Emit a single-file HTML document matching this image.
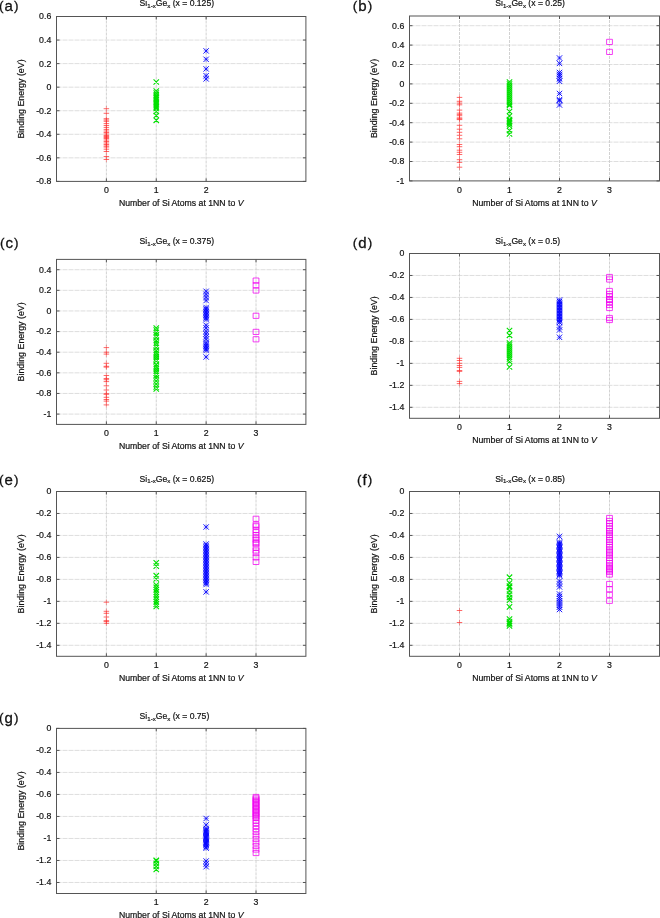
<!DOCTYPE html>
<html><head><meta charset="utf-8"><style>
html,body{margin:0;padding:0;background:#fff;width:660px;height:918px;overflow:hidden}
svg{display:block;filter:blur(0.35px)}
text{font-family:"Liberation Sans", sans-serif;fill:#111;stroke:#111;stroke-width:0.2px}
</style></head><body>
<svg width="660" height="918" viewBox="0 0 660 918">
<path d="M56.50 40.06H305.90M56.50 63.61H305.90M56.50 87.17H305.90M56.50 110.73H305.90M56.50 134.29H305.90M56.50 157.84H305.90" stroke="#d6d6d6" stroke-width="0.8" stroke-dasharray="5 1" fill="none"/>
<path d="M106.38 16.50V181.40M156.26 16.50V181.40M206.14 16.50V181.40" stroke="#cdcdcd" stroke-width="0.9" stroke-dasharray="3 1" fill="none"/>
<path d="M56.50 16.50h3M305.90 16.50h-3M56.50 40.06h3M305.90 40.06h-3M56.50 63.61h3M305.90 63.61h-3M56.50 87.17h3M305.90 87.17h-3M56.50 110.73h3M305.90 110.73h-3M56.50 134.29h3M305.90 134.29h-3M56.50 157.84h3M305.90 157.84h-3M56.50 181.40h3M305.90 181.40h-3M106.38 181.40v-3M106.38 16.50v3M156.26 181.40v-3M156.26 16.50v3M206.14 181.40v-3M206.14 16.50v3" stroke="#555555" stroke-width="1" fill="none"/>
<path d="M103.63 108.70h5.5M103.63 113.30h5.5M103.63 118.70h5.5M103.63 120.00h5.5M103.63 121.30h5.5M103.63 123.60h5.5M103.63 125.50h5.5M103.63 127.40h5.5M103.63 129.40h5.5M103.63 131.00h5.5M103.63 132.50h5.5M103.63 134.00h5.5M103.63 135.50h5.5M103.63 136.50h5.5M103.63 137.50h5.5M103.63 138.50h5.5M103.63 140.00h5.5M103.63 141.50h5.5M103.63 143.00h5.5M103.63 144.50h5.5M103.63 146.00h5.5M103.63 147.00h5.5M103.63 149.20h5.5M103.63 151.50h5.5M103.63 156.50h5.5M103.63 159.50h5.5" stroke="#ff2828" stroke-width="0.7" fill="none"/>
<path d="M106.38 106.00v5.4M106.38 110.60v5.4M106.38 116.00v5.4M106.38 117.30v5.4M106.38 118.60v5.4M106.38 120.90v5.4M106.38 122.80v5.4M106.38 124.70v5.4M106.38 126.70v5.4M106.38 128.30v5.4M106.38 129.80v5.4M106.38 131.30v5.4M106.38 132.80v5.4M106.38 133.80v5.4M106.38 134.80v5.4M106.38 135.80v5.4M106.38 137.30v5.4M106.38 138.80v5.4M106.38 140.30v5.4M106.38 141.80v5.4M106.38 143.30v5.4M106.38 144.30v5.4M106.38 146.50v5.4M106.38 148.80v5.4M106.38 153.80v5.4M106.38 156.80v5.4" stroke="#ff2828" stroke-width="0.7" stroke-opacity="0.6" fill="none"/>
<path d="M153.56 79.30l5.4 5.4M153.56 84.70l5.4 -5.4M153.56 88.30l5.4 5.4M153.56 93.70l5.4 -5.4M153.56 90.30l5.4 5.4M153.56 95.70l5.4 -5.4M153.56 92.30l5.4 5.4M153.56 97.70l5.4 -5.4M153.56 93.80l5.4 5.4M153.56 99.20l5.4 -5.4M153.56 95.30l5.4 5.4M153.56 100.70l5.4 -5.4M153.56 96.30l5.4 5.4M153.56 101.70l5.4 -5.4M153.56 97.30l5.4 5.4M153.56 102.70l5.4 -5.4M153.56 98.30l5.4 5.4M153.56 103.70l5.4 -5.4M153.56 99.30l5.4 5.4M153.56 104.70l5.4 -5.4M153.56 100.30l5.4 5.4M153.56 105.70l5.4 -5.4M153.56 101.30l5.4 5.4M153.56 106.70l5.4 -5.4M153.56 102.80l5.4 5.4M153.56 108.20l5.4 -5.4M153.56 104.30l5.4 5.4M153.56 109.70l5.4 -5.4M153.56 105.80l5.4 5.4M153.56 111.20l5.4 -5.4M153.56 108.80l5.4 5.4M153.56 114.20l5.4 -5.4M153.56 112.80l5.4 5.4M153.56 118.20l5.4 -5.4M153.56 117.60l5.4 5.4M153.56 123.00l5.4 -5.4" stroke="#00e000" stroke-width="1.1" fill="none"/>
<path d="M203.44 48.20l5.4 5.4M203.44 53.60l5.4 -5.4M203.44 56.60l5.4 5.4M203.44 62.00l5.4 -5.4M203.44 66.20l5.4 5.4M203.44 71.60l5.4 -5.4M203.44 73.00l5.4 5.4M203.44 78.40l5.4 -5.4M203.44 76.20l5.4 5.4M203.44 81.60l5.4 -5.4" stroke="#0000ff" stroke-width="0.9" fill="none"/>
<path d="M203.44 50.90h5.4M206.14 48.20v5.4M203.44 59.30h5.4M206.14 56.60v5.4M203.44 68.90h5.4M206.14 66.20v5.4M203.44 75.70h5.4M206.14 73.00v5.4M203.44 78.90h5.4M206.14 76.20v5.4" stroke="#0000ff" stroke-width="0.8" stroke-opacity="0.45" fill="none"/>
<rect x="56.50" y="16.50" width="249.40" height="164.90" stroke="#555555" stroke-width="1" fill="none"/>
<text transform="translate(51.30 19.40) scale(0.945 1)" font-size="9.3" text-anchor="end">0.6</text>
<text transform="translate(51.30 42.96) scale(0.945 1)" font-size="9.3" text-anchor="end">0.4</text>
<text transform="translate(51.30 66.51) scale(0.945 1)" font-size="9.3" text-anchor="end">0.2</text>
<text transform="translate(51.30 90.07) scale(0.945 1)" font-size="9.3" text-anchor="end">0</text>
<text transform="translate(51.30 113.63) scale(0.945 1)" font-size="9.3" text-anchor="end">-0.2</text>
<text transform="translate(51.30 137.19) scale(0.945 1)" font-size="9.3" text-anchor="end">-0.4</text>
<text transform="translate(51.30 160.74) scale(0.945 1)" font-size="9.3" text-anchor="end">-0.6</text>
<text transform="translate(51.30 184.30) scale(0.945 1)" font-size="9.3" text-anchor="end">-0.8</text>
<text transform="translate(106.38 193.00) scale(0.945 1)" font-size="9.3" text-anchor="middle">0</text>
<text transform="translate(156.26 193.00) scale(0.945 1)" font-size="9.3" text-anchor="middle">1</text>
<text transform="translate(206.14 193.00) scale(0.945 1)" font-size="9.3" text-anchor="middle">2</text>
<text x="181.20" y="206.30" font-size="8.7" text-anchor="middle">Number of Si Atoms at 1NN to <tspan font-style="italic">V</tspan></text>
<text transform="translate(23.90 98.95) rotate(-90)" x="0" y="0" font-size="8.85" text-anchor="middle">Binding Energy (eV)</text>
<text x="139.6" y="6.1000000000000005" font-size="8.62">Si<tspan font-size="6.1" dy="1.9">1-x</tspan><tspan dy="-1.9">Ge</tspan><tspan font-size="6.1" dy="1.9">x</tspan><tspan dy="-1.9"> (x = 0.125)</tspan></text>
<text x="18.4" y="10.65" font-size="15" text-anchor="end" style="stroke-width:0.3px"><tspan font-size="13.5" dy="-1">(</tspan><tspan dx="1" dy="1">a</tspan><tspan font-size="13.5" dx="1" dy="-1">)</tspan></text>
<path d="M409.50 25.70H659.50M409.50 45.10H659.50M409.50 64.50H659.50M409.50 83.90H659.50M409.50 103.30H659.50M409.50 122.70H659.50M409.50 142.10H659.50M409.50 161.50H659.50" stroke="#d6d6d6" stroke-width="0.8" stroke-dasharray="5 1" fill="none"/>
<path d="M459.50 16.00V180.90M509.50 16.00V180.90M559.50 16.00V180.90M609.50 16.00V180.90" stroke="#cdcdcd" stroke-width="0.9" stroke-dasharray="3 1" fill="none"/>
<path d="M409.50 25.70h3M659.50 25.70h-3M409.50 45.10h3M659.50 45.10h-3M409.50 64.50h3M659.50 64.50h-3M409.50 83.90h3M659.50 83.90h-3M409.50 103.30h3M659.50 103.30h-3M409.50 122.70h3M659.50 122.70h-3M409.50 142.10h3M659.50 142.10h-3M409.50 161.50h3M659.50 161.50h-3M409.50 180.90h3M659.50 180.90h-3M459.50 180.90v-3M459.50 16.00v3M509.50 180.90v-3M509.50 16.00v3M559.50 180.90v-3M559.50 16.00v3M609.50 180.90v-3M609.50 16.00v3" stroke="#555555" stroke-width="1" fill="none"/>
<path d="M456.75 97.40h5.5M456.75 101.30h5.5M456.75 103.10h5.5M456.75 104.80h5.5M456.75 110.10h5.5M456.75 113.10h5.5M456.75 114.40h5.5M456.75 115.70h5.5M456.75 117.90h5.5M456.75 118.80h5.5M456.75 119.60h5.5M456.75 125.30h5.5M456.75 129.20h5.5M456.75 132.30h5.5M456.75 135.30h5.5M456.75 138.80h5.5M456.75 144.50h5.5M456.75 146.70h5.5M456.75 150.20h5.5M456.75 152.30h5.5M456.75 154.50h5.5M456.75 159.70h5.5M456.75 162.40h5.5M456.75 167.20h5.5" stroke="#ff2828" stroke-width="0.7" fill="none"/>
<path d="M459.50 94.70v5.4M459.50 98.60v5.4M459.50 100.40v5.4M459.50 102.10v5.4M459.50 107.40v5.4M459.50 110.40v5.4M459.50 111.70v5.4M459.50 113.00v5.4M459.50 115.20v5.4M459.50 116.10v5.4M459.50 116.90v5.4M459.50 122.60v5.4M459.50 126.50v5.4M459.50 129.60v5.4M459.50 132.60v5.4M459.50 136.10v5.4M459.50 141.80v5.4M459.50 144.00v5.4M459.50 147.50v5.4M459.50 149.60v5.4M459.50 151.80v5.4M459.50 157.00v5.4M459.50 159.70v5.4M459.50 164.50v5.4" stroke="#ff2828" stroke-width="0.7" stroke-opacity="0.6" fill="none"/>
<path d="M506.80 79.30l5.4 5.4M506.80 84.70l5.4 -5.4M506.80 81.30l5.4 5.4M506.80 86.70l5.4 -5.4M506.80 83.30l5.4 5.4M506.80 88.70l5.4 -5.4M506.80 85.30l5.4 5.4M506.80 90.70l5.4 -5.4M506.80 87.30l5.4 5.4M506.80 92.70l5.4 -5.4M506.80 89.30l5.4 5.4M506.80 94.70l5.4 -5.4M506.80 91.30l5.4 5.4M506.80 96.70l5.4 -5.4M506.80 93.30l5.4 5.4M506.80 98.70l5.4 -5.4M506.80 95.30l5.4 5.4M506.80 100.70l5.4 -5.4M506.80 97.30l5.4 5.4M506.80 102.70l5.4 -5.4M506.80 99.30l5.4 5.4M506.80 104.70l5.4 -5.4M506.80 101.30l5.4 5.4M506.80 106.70l5.4 -5.4M506.80 102.80l5.4 5.4M506.80 108.20l5.4 -5.4M506.80 108.80l5.4 5.4M506.80 114.20l5.4 -5.4M506.80 113.30l5.4 5.4M506.80 118.70l5.4 -5.4M506.80 116.80l5.4 5.4M506.80 122.20l5.4 -5.4M506.80 118.30l5.4 5.4M506.80 123.70l5.4 -5.4M506.80 119.80l5.4 5.4M506.80 125.20l5.4 -5.4M506.80 121.30l5.4 5.4M506.80 126.70l5.4 -5.4M506.80 123.30l5.4 5.4M506.80 128.70l5.4 -5.4M506.80 127.80l5.4 5.4M506.80 133.20l5.4 -5.4M506.80 131.30l5.4 5.4M506.80 136.70l5.4 -5.4" stroke="#00e000" stroke-width="1.1" fill="none"/>
<path d="M556.80 55.30l5.4 5.4M556.80 60.70l5.4 -5.4M556.80 60.70l5.4 5.4M556.80 66.10l5.4 -5.4M556.80 69.80l5.4 5.4M556.80 75.20l5.4 -5.4M556.80 71.70l5.4 5.4M556.80 77.10l5.4 -5.4M556.80 73.30l5.4 5.4M556.80 78.70l5.4 -5.4M556.80 75.90l5.4 5.4M556.80 81.30l5.4 -5.4M556.80 78.60l5.4 5.4M556.80 84.00l5.4 -5.4M556.80 90.80l5.4 5.4M556.80 96.20l5.4 -5.4M556.80 97.00l5.4 5.4M556.80 102.40l5.4 -5.4M556.80 98.00l5.4 5.4M556.80 103.40l5.4 -5.4M556.80 102.30l5.4 5.4M556.80 107.70l5.4 -5.4" stroke="#0000ff" stroke-width="0.9" fill="none"/>
<path d="M556.80 58.00h5.4M559.50 55.30v5.4M556.80 63.40h5.4M559.50 60.70v5.4M556.80 72.50h5.4M559.50 69.80v5.4M556.80 74.40h5.4M559.50 71.70v5.4M556.80 76.00h5.4M559.50 73.30v5.4M556.80 78.60h5.4M559.50 75.90v5.4M556.80 81.30h5.4M559.50 78.60v5.4M556.80 93.50h5.4M559.50 90.80v5.4M556.80 99.70h5.4M559.50 97.00v5.4M556.80 100.70h5.4M559.50 98.00v5.4M556.80 105.00h5.4M559.50 102.30v5.4" stroke="#0000ff" stroke-width="0.8" stroke-opacity="0.45" fill="none"/>
<path d="M606.60 39.30h5.8v5.2h-5.8zM606.60 49.30h5.8v5.2h-5.8z" stroke="#f000f0" stroke-width="0.75" fill="none"/>
<rect x="409.50" y="16.00" width="250.00" height="164.90" stroke="#555555" stroke-width="1" fill="none"/>
<text transform="translate(404.30 28.60) scale(0.945 1)" font-size="9.3" text-anchor="end">0.6</text>
<text transform="translate(404.30 48.00) scale(0.945 1)" font-size="9.3" text-anchor="end">0.4</text>
<text transform="translate(404.30 67.40) scale(0.945 1)" font-size="9.3" text-anchor="end">0.2</text>
<text transform="translate(404.30 86.80) scale(0.945 1)" font-size="9.3" text-anchor="end">0</text>
<text transform="translate(404.30 106.20) scale(0.945 1)" font-size="9.3" text-anchor="end">-0.2</text>
<text transform="translate(404.30 125.60) scale(0.945 1)" font-size="9.3" text-anchor="end">-0.4</text>
<text transform="translate(404.30 145.00) scale(0.945 1)" font-size="9.3" text-anchor="end">-0.6</text>
<text transform="translate(404.30 164.40) scale(0.945 1)" font-size="9.3" text-anchor="end">-0.8</text>
<text transform="translate(404.30 183.80) scale(0.945 1)" font-size="9.3" text-anchor="end">-1</text>
<text transform="translate(459.50 192.50) scale(0.945 1)" font-size="9.3" text-anchor="middle">0</text>
<text transform="translate(509.50 192.50) scale(0.945 1)" font-size="9.3" text-anchor="middle">1</text>
<text transform="translate(559.50 192.50) scale(0.945 1)" font-size="9.3" text-anchor="middle">2</text>
<text transform="translate(609.50 192.50) scale(0.945 1)" font-size="9.3" text-anchor="middle">3</text>
<text x="534.50" y="205.80" font-size="8.7" text-anchor="middle">Number of Si Atoms at 1NN to <tspan font-style="italic">V</tspan></text>
<text transform="translate(376.90 98.45) rotate(-90)" x="0" y="0" font-size="8.85" text-anchor="middle">Binding Energy (eV)</text>
<text x="495.3" y="6.3" font-size="8.62">Si<tspan font-size="6.1" dy="1.9">1-x</tspan><tspan dy="-1.9">Ge</tspan><tspan font-size="6.1" dy="1.9">x</tspan><tspan dy="-1.9"> (x = 0.25)</tspan></text>
<text x="372.2" y="10.65" font-size="15" text-anchor="end" style="stroke-width:0.3px"><tspan font-size="13.5" dy="-1">(</tspan><tspan dx="1" dy="1">b</tspan><tspan font-size="13.5" dx="1" dy="-1">)</tspan></text>
<path d="M56.50 269.71H305.90M56.50 290.34H305.90M56.50 310.96H305.90M56.50 331.59H305.90M56.50 352.21H305.90M56.50 372.84H305.90M56.50 393.46H305.90M56.50 414.09H305.90" stroke="#d6d6d6" stroke-width="0.8" stroke-dasharray="5 1" fill="none"/>
<path d="M106.38 259.40V424.40M156.26 259.40V424.40M206.14 259.40V424.40M256.02 259.40V424.40" stroke="#cdcdcd" stroke-width="0.9" stroke-dasharray="3 1" fill="none"/>
<path d="M56.50 269.71h3M305.90 269.71h-3M56.50 290.34h3M305.90 290.34h-3M56.50 310.96h3M305.90 310.96h-3M56.50 331.59h3M305.90 331.59h-3M56.50 352.21h3M305.90 352.21h-3M56.50 372.84h3M305.90 372.84h-3M56.50 393.46h3M305.90 393.46h-3M56.50 414.09h3M305.90 414.09h-3M106.38 424.40v-3M106.38 259.40v3M156.26 424.40v-3M156.26 259.40v3M206.14 424.40v-3M206.14 259.40v3M256.02 424.40v-3M256.02 259.40v3" stroke="#555555" stroke-width="1" fill="none"/>
<path d="M103.63 347.60h5.5M103.63 352.20h5.5M103.63 354.10h5.5M103.63 363.30h5.5M103.63 366.30h5.5M103.63 367.10h5.5M103.63 375.50h5.5M103.63 378.50h5.5M103.63 379.70h5.5M103.63 381.60h5.5M103.63 385.80h5.5M103.63 390.00h5.5M103.63 393.80h5.5M103.63 394.20h5.5M103.63 397.30h5.5M103.63 399.50h5.5M103.63 401.10h5.5M103.63 404.90h5.5" stroke="#ff2828" stroke-width="0.7" fill="none"/>
<path d="M106.38 344.90v5.4M106.38 349.50v5.4M106.38 351.40v5.4M106.38 360.60v5.4M106.38 363.60v5.4M106.38 364.40v5.4M106.38 372.80v5.4M106.38 375.80v5.4M106.38 377.00v5.4M106.38 378.90v5.4M106.38 383.10v5.4M106.38 387.30v5.4M106.38 391.10v5.4M106.38 391.50v5.4M106.38 394.60v5.4M106.38 396.80v5.4M106.38 398.40v5.4M106.38 402.20v5.4" stroke="#ff2828" stroke-width="0.7" stroke-opacity="0.6" fill="none"/>
<path d="M153.56 325.30l5.4 5.4M153.56 330.70l5.4 -5.4M153.56 327.30l5.4 5.4M153.56 332.70l5.4 -5.4M153.56 329.80l5.4 5.4M153.56 335.20l5.4 -5.4M153.56 332.30l5.4 5.4M153.56 337.70l5.4 -5.4M153.56 334.80l5.4 5.4M153.56 340.20l5.4 -5.4M153.56 337.80l5.4 5.4M153.56 343.20l5.4 -5.4M153.56 340.30l5.4 5.4M153.56 345.70l5.4 -5.4M153.56 342.30l5.4 5.4M153.56 347.70l5.4 -5.4M153.56 344.80l5.4 5.4M153.56 350.20l5.4 -5.4M153.56 347.80l5.4 5.4M153.56 353.20l5.4 -5.4M153.56 350.30l5.4 5.4M153.56 355.70l5.4 -5.4M153.56 352.30l5.4 5.4M153.56 357.70l5.4 -5.4M153.56 354.30l5.4 5.4M153.56 359.70l5.4 -5.4M153.56 356.30l5.4 5.4M153.56 361.70l5.4 -5.4M153.56 358.30l5.4 5.4M153.56 363.70l5.4 -5.4M153.56 361.80l5.4 5.4M153.56 367.20l5.4 -5.4M153.56 364.30l5.4 5.4M153.56 369.70l5.4 -5.4M153.56 366.30l5.4 5.4M153.56 371.70l5.4 -5.4M153.56 368.30l5.4 5.4M153.56 373.70l5.4 -5.4M153.56 370.30l5.4 5.4M153.56 375.70l5.4 -5.4M153.56 372.80l5.4 5.4M153.56 378.20l5.4 -5.4M153.56 375.30l5.4 5.4M153.56 380.70l5.4 -5.4M153.56 378.30l5.4 5.4M153.56 383.70l5.4 -5.4M153.56 381.30l5.4 5.4M153.56 386.70l5.4 -5.4M153.56 384.30l5.4 5.4M153.56 389.70l5.4 -5.4M153.56 386.30l5.4 5.4M153.56 391.70l5.4 -5.4" stroke="#00e000" stroke-width="1.1" fill="none"/>
<path d="M203.44 288.60l5.4 5.4M203.44 294.00l5.4 -5.4M203.44 291.70l5.4 5.4M203.44 297.10l5.4 -5.4M203.44 294.70l5.4 5.4M203.44 300.10l5.4 -5.4M203.44 297.80l5.4 5.4M203.44 303.20l5.4 -5.4M203.44 304.80l5.4 5.4M203.44 310.20l5.4 -5.4M203.44 306.30l5.4 5.4M203.44 311.70l5.4 -5.4M203.44 307.80l5.4 5.4M203.44 313.20l5.4 -5.4M203.44 309.30l5.4 5.4M203.44 314.70l5.4 -5.4M203.44 310.80l5.4 5.4M203.44 316.20l5.4 -5.4M203.44 312.30l5.4 5.4M203.44 317.70l5.4 -5.4M203.44 313.80l5.4 5.4M203.44 319.20l5.4 -5.4M203.44 315.30l5.4 5.4M203.44 320.70l5.4 -5.4M203.44 316.80l5.4 5.4M203.44 322.20l5.4 -5.4M203.44 322.60l5.4 5.4M203.44 328.00l5.4 -5.4M203.44 325.30l5.4 5.4M203.44 330.70l5.4 -5.4M203.44 328.70l5.4 5.4M203.44 334.10l5.4 -5.4M203.44 331.30l5.4 5.4M203.44 336.70l5.4 -5.4M203.44 334.00l5.4 5.4M203.44 339.40l5.4 -5.4M203.44 336.60l5.4 5.4M203.44 342.00l5.4 -5.4M203.44 339.90l5.4 5.4M203.44 345.30l5.4 -5.4M203.44 341.80l5.4 5.4M203.44 347.20l5.4 -5.4M203.44 343.30l5.4 5.4M203.44 348.70l5.4 -5.4M203.44 344.80l5.4 5.4M203.44 350.20l5.4 -5.4M203.44 346.30l5.4 5.4M203.44 351.70l5.4 -5.4M203.44 347.80l5.4 5.4M203.44 353.20l5.4 -5.4M203.44 354.30l5.4 5.4M203.44 359.70l5.4 -5.4" stroke="#0000ff" stroke-width="0.9" fill="none"/>
<path d="M203.44 291.30h5.4M206.14 288.60v5.4M203.44 294.40h5.4M206.14 291.70v5.4M203.44 297.40h5.4M206.14 294.70v5.4M203.44 300.50h5.4M206.14 297.80v5.4M203.44 307.50h5.4M206.14 304.80v5.4M203.44 309.00h5.4M206.14 306.30v5.4M203.44 310.50h5.4M206.14 307.80v5.4M203.44 312.00h5.4M206.14 309.30v5.4M203.44 313.50h5.4M206.14 310.80v5.4M203.44 315.00h5.4M206.14 312.30v5.4M203.44 316.50h5.4M206.14 313.80v5.4M203.44 318.00h5.4M206.14 315.30v5.4M203.44 319.50h5.4M206.14 316.80v5.4M203.44 325.30h5.4M206.14 322.60v5.4M203.44 328.00h5.4M206.14 325.30v5.4M203.44 331.40h5.4M206.14 328.70v5.4M203.44 334.00h5.4M206.14 331.30v5.4M203.44 336.70h5.4M206.14 334.00v5.4M203.44 339.30h5.4M206.14 336.60v5.4M203.44 342.60h5.4M206.14 339.90v5.4M203.44 344.50h5.4M206.14 341.80v5.4M203.44 346.00h5.4M206.14 343.30v5.4M203.44 347.50h5.4M206.14 344.80v5.4M203.44 349.00h5.4M206.14 346.30v5.4M203.44 350.50h5.4M206.14 347.80v5.4M203.44 357.00h5.4M206.14 354.30v5.4" stroke="#0000ff" stroke-width="0.8" stroke-opacity="0.45" fill="none"/>
<path d="M253.12 278.00h5.8v5.2h-5.8zM253.12 282.70h5.8v5.2h-5.8zM253.12 287.90h5.8v5.2h-5.8zM253.12 313.20h5.8v5.2h-5.8zM253.12 329.30h5.8v5.2h-5.8zM253.12 336.70h5.8v5.2h-5.8z" stroke="#f000f0" stroke-width="0.75" fill="none"/>
<rect x="56.50" y="259.40" width="249.40" height="165.00" stroke="#555555" stroke-width="1" fill="none"/>
<text transform="translate(51.30 272.61) scale(0.945 1)" font-size="9.3" text-anchor="end">0.4</text>
<text transform="translate(51.30 293.24) scale(0.945 1)" font-size="9.3" text-anchor="end">0.2</text>
<text transform="translate(51.30 313.86) scale(0.945 1)" font-size="9.3" text-anchor="end">0</text>
<text transform="translate(51.30 334.49) scale(0.945 1)" font-size="9.3" text-anchor="end">-0.2</text>
<text transform="translate(51.30 355.11) scale(0.945 1)" font-size="9.3" text-anchor="end">-0.4</text>
<text transform="translate(51.30 375.74) scale(0.945 1)" font-size="9.3" text-anchor="end">-0.6</text>
<text transform="translate(51.30 396.36) scale(0.945 1)" font-size="9.3" text-anchor="end">-0.8</text>
<text transform="translate(51.30 416.99) scale(0.945 1)" font-size="9.3" text-anchor="end">-1</text>
<text transform="translate(106.38 436.00) scale(0.945 1)" font-size="9.3" text-anchor="middle">0</text>
<text transform="translate(156.26 436.00) scale(0.945 1)" font-size="9.3" text-anchor="middle">1</text>
<text transform="translate(206.14 436.00) scale(0.945 1)" font-size="9.3" text-anchor="middle">2</text>
<text transform="translate(256.02 436.00) scale(0.945 1)" font-size="9.3" text-anchor="middle">3</text>
<text x="181.20" y="449.30" font-size="8.7" text-anchor="middle">Number of Si Atoms at 1NN to <tspan font-style="italic">V</tspan></text>
<text transform="translate(23.90 341.90) rotate(-90)" x="0" y="0" font-size="8.85" text-anchor="middle">Binding Energy (eV)</text>
<text x="139.6" y="244.0" font-size="8.62">Si<tspan font-size="6.1" dy="1.9">1-x</tspan><tspan dy="-1.9">Ge</tspan><tspan font-size="6.1" dy="1.9">x</tspan><tspan dy="-1.9"> (x = 0.375)</tspan></text>
<text x="18.4" y="247.75" font-size="15" text-anchor="end" style="stroke-width:0.3px"><tspan font-size="13.5" dy="-1">(</tspan><tspan dx="1" dy="1">c</tspan><tspan font-size="13.5" dx="1" dy="-1">)</tspan></text>
<path d="M409.50 275.47H659.50M409.50 297.45H659.50M409.50 319.42H659.50M409.50 341.39H659.50M409.50 363.37H659.50M409.50 385.34H659.50M409.50 407.31H659.50" stroke="#d6d6d6" stroke-width="0.8" stroke-dasharray="5 1" fill="none"/>
<path d="M459.50 253.50V418.30M509.50 253.50V418.30M559.50 253.50V418.30M609.50 253.50V418.30" stroke="#cdcdcd" stroke-width="0.9" stroke-dasharray="3 1" fill="none"/>
<path d="M409.50 253.50h3M659.50 253.50h-3M409.50 275.47h3M659.50 275.47h-3M409.50 297.45h3M659.50 297.45h-3M409.50 319.42h3M659.50 319.42h-3M409.50 341.39h3M659.50 341.39h-3M409.50 363.37h3M659.50 363.37h-3M409.50 385.34h3M659.50 385.34h-3M409.50 407.31h3M659.50 407.31h-3M459.50 418.30v-3M459.50 253.50v3M509.50 418.30v-3M509.50 253.50v3M559.50 418.30v-3M559.50 253.50v3M609.50 418.30v-3M609.50 253.50v3" stroke="#555555" stroke-width="1" fill="none"/>
<path d="M456.75 358.30h5.5M456.75 360.50h5.5M456.75 363.30h5.5M456.75 365.50h5.5M456.75 367.40h5.5M456.75 370.50h5.5M456.75 371.40h5.5M456.75 381.40h5.5M456.75 383.60h5.5" stroke="#ff2828" stroke-width="0.7" fill="none"/>
<path d="M459.50 355.60v5.4M459.50 357.80v5.4M459.50 360.60v5.4M459.50 362.80v5.4M459.50 364.70v5.4M459.50 367.80v5.4M459.50 368.70v5.4M459.50 378.70v5.4M459.50 380.90v5.4" stroke="#ff2828" stroke-width="0.7" stroke-opacity="0.6" fill="none"/>
<path d="M506.80 327.80l5.4 5.4M506.80 333.20l5.4 -5.4M506.80 332.60l5.4 5.4M506.80 338.00l5.4 -5.4M506.80 340.30l5.4 5.4M506.80 345.70l5.4 -5.4M506.80 342.30l5.4 5.4M506.80 347.70l5.4 -5.4M506.80 344.30l5.4 5.4M506.80 349.70l5.4 -5.4M506.80 346.30l5.4 5.4M506.80 351.70l5.4 -5.4M506.80 348.30l5.4 5.4M506.80 353.70l5.4 -5.4M506.80 350.30l5.4 5.4M506.80 355.70l5.4 -5.4M506.80 352.30l5.4 5.4M506.80 357.70l5.4 -5.4M506.80 354.30l5.4 5.4M506.80 359.70l5.4 -5.4M506.80 356.30l5.4 5.4M506.80 361.70l5.4 -5.4M506.80 358.80l5.4 5.4M506.80 364.20l5.4 -5.4M506.80 364.30l5.4 5.4M506.80 369.70l5.4 -5.4" stroke="#00e000" stroke-width="1.1" fill="none"/>
<path d="M556.80 297.30l5.4 5.4M556.80 302.70l5.4 -5.4M556.80 298.80l5.4 5.4M556.80 304.20l5.4 -5.4M556.80 300.30l5.4 5.4M556.80 305.70l5.4 -5.4M556.80 301.80l5.4 5.4M556.80 307.20l5.4 -5.4M556.80 303.30l5.4 5.4M556.80 308.70l5.4 -5.4M556.80 304.80l5.4 5.4M556.80 310.20l5.4 -5.4M556.80 306.30l5.4 5.4M556.80 311.70l5.4 -5.4M556.80 307.80l5.4 5.4M556.80 313.20l5.4 -5.4M556.80 309.30l5.4 5.4M556.80 314.70l5.4 -5.4M556.80 310.80l5.4 5.4M556.80 316.20l5.4 -5.4M556.80 312.30l5.4 5.4M556.80 317.70l5.4 -5.4M556.80 313.80l5.4 5.4M556.80 319.20l5.4 -5.4M556.80 315.30l5.4 5.4M556.80 320.70l5.4 -5.4M556.80 316.80l5.4 5.4M556.80 322.20l5.4 -5.4M556.80 318.30l5.4 5.4M556.80 323.70l5.4 -5.4M556.80 319.80l5.4 5.4M556.80 325.20l5.4 -5.4M556.80 324.30l5.4 5.4M556.80 329.70l5.4 -5.4M556.80 327.30l5.4 5.4M556.80 332.70l5.4 -5.4M556.80 334.60l5.4 5.4M556.80 340.00l5.4 -5.4" stroke="#0000ff" stroke-width="0.9" fill="none"/>
<path d="M556.80 300.00h5.4M559.50 297.30v5.4M556.80 301.50h5.4M559.50 298.80v5.4M556.80 303.00h5.4M559.50 300.30v5.4M556.80 304.50h5.4M559.50 301.80v5.4M556.80 306.00h5.4M559.50 303.30v5.4M556.80 307.50h5.4M559.50 304.80v5.4M556.80 309.00h5.4M559.50 306.30v5.4M556.80 310.50h5.4M559.50 307.80v5.4M556.80 312.00h5.4M559.50 309.30v5.4M556.80 313.50h5.4M559.50 310.80v5.4M556.80 315.00h5.4M559.50 312.30v5.4M556.80 316.50h5.4M559.50 313.80v5.4M556.80 318.00h5.4M559.50 315.30v5.4M556.80 319.50h5.4M559.50 316.80v5.4M556.80 321.00h5.4M559.50 318.30v5.4M556.80 322.50h5.4M559.50 319.80v5.4M556.80 327.00h5.4M559.50 324.30v5.4M556.80 330.00h5.4M559.50 327.30v5.4M556.80 337.30h5.4M559.50 334.60v5.4" stroke="#0000ff" stroke-width="0.8" stroke-opacity="0.45" fill="none"/>
<path d="M606.60 274.40h5.8v5.2h-5.8zM606.60 276.90h5.8v5.2h-5.8zM606.60 288.40h5.8v5.2h-5.8zM606.60 291.40h5.8v5.2h-5.8zM606.60 293.90h5.8v5.2h-5.8zM606.60 296.40h5.8v5.2h-5.8zM606.60 297.40h5.8v5.2h-5.8zM606.60 299.40h5.8v5.2h-5.8zM606.60 302.40h5.8v5.2h-5.8zM606.60 305.40h5.8v5.2h-5.8zM606.60 315.40h5.8v5.2h-5.8zM606.60 317.40h5.8v5.2h-5.8z" stroke="#f000f0" stroke-width="0.75" fill="none"/>
<rect x="409.50" y="253.50" width="250.00" height="164.80" stroke="#555555" stroke-width="1" fill="none"/>
<text transform="translate(404.30 256.40) scale(0.945 1)" font-size="9.3" text-anchor="end">0</text>
<text transform="translate(404.30 278.37) scale(0.945 1)" font-size="9.3" text-anchor="end">-0.2</text>
<text transform="translate(404.30 300.35) scale(0.945 1)" font-size="9.3" text-anchor="end">-0.4</text>
<text transform="translate(404.30 322.32) scale(0.945 1)" font-size="9.3" text-anchor="end">-0.6</text>
<text transform="translate(404.30 344.29) scale(0.945 1)" font-size="9.3" text-anchor="end">-0.8</text>
<text transform="translate(404.30 366.27) scale(0.945 1)" font-size="9.3" text-anchor="end">-1</text>
<text transform="translate(404.30 388.24) scale(0.945 1)" font-size="9.3" text-anchor="end">-1.2</text>
<text transform="translate(404.30 410.21) scale(0.945 1)" font-size="9.3" text-anchor="end">-1.4</text>
<text transform="translate(459.50 429.90) scale(0.945 1)" font-size="9.3" text-anchor="middle">0</text>
<text transform="translate(509.50 429.90) scale(0.945 1)" font-size="9.3" text-anchor="middle">1</text>
<text transform="translate(559.50 429.90) scale(0.945 1)" font-size="9.3" text-anchor="middle">2</text>
<text transform="translate(609.50 429.90) scale(0.945 1)" font-size="9.3" text-anchor="middle">3</text>
<text x="534.50" y="443.20" font-size="8.7" text-anchor="middle">Number of Si Atoms at 1NN to <tspan font-style="italic">V</tspan></text>
<text transform="translate(376.90 335.90) rotate(-90)" x="0" y="0" font-size="8.85" text-anchor="middle">Binding Energy (eV)</text>
<text x="495.3" y="244.0" font-size="8.62">Si<tspan font-size="6.1" dy="1.9">1-x</tspan><tspan dy="-1.9">Ge</tspan><tspan font-size="6.1" dy="1.9">x</tspan><tspan dy="-1.9"> (x = 0.5)</tspan></text>
<text x="372.2" y="247.75" font-size="15" text-anchor="end" style="stroke-width:0.3px"><tspan font-size="13.5" dy="-1">(</tspan><tspan dx="1" dy="1">d</tspan><tspan font-size="13.5" dx="1" dy="-1">)</tspan></text>
<path d="M56.50 513.47H305.90M56.50 535.45H305.90M56.50 557.42H305.90M56.50 579.39H305.90M56.50 601.37H305.90M56.50 623.34H305.90M56.50 645.31H305.90" stroke="#d6d6d6" stroke-width="0.8" stroke-dasharray="5 1" fill="none"/>
<path d="M106.38 491.50V656.30M156.26 491.50V656.30M206.14 491.50V656.30M256.02 491.50V656.30" stroke="#cdcdcd" stroke-width="0.9" stroke-dasharray="3 1" fill="none"/>
<path d="M56.50 491.50h3M305.90 491.50h-3M56.50 513.47h3M305.90 513.47h-3M56.50 535.45h3M305.90 535.45h-3M56.50 557.42h3M305.90 557.42h-3M56.50 579.39h3M305.90 579.39h-3M56.50 601.37h3M305.90 601.37h-3M56.50 623.34h3M305.90 623.34h-3M56.50 645.31h3M305.90 645.31h-3M106.38 656.30v-3M106.38 491.50v3M156.26 656.30v-3M156.26 491.50v3M206.14 656.30v-3M206.14 491.50v3M256.02 656.30v-3M256.02 491.50v3" stroke="#555555" stroke-width="1" fill="none"/>
<path d="M103.63 602.20h5.5M103.63 611.30h5.5M103.63 613.30h5.5M103.63 617.00h5.5M103.63 620.70h5.5M103.63 621.40h5.5M103.63 623.30h5.5" stroke="#ff2828" stroke-width="0.7" fill="none"/>
<path d="M106.38 599.50v5.4M106.38 608.60v5.4M106.38 610.60v5.4M106.38 614.30v5.4M106.38 618.00v5.4M106.38 618.70v5.4M106.38 620.60v5.4" stroke="#ff2828" stroke-width="0.7" stroke-opacity="0.6" fill="none"/>
<path d="M153.56 560.10l5.4 5.4M153.56 565.50l5.4 -5.4M153.56 563.40l5.4 5.4M153.56 568.80l5.4 -5.4M153.56 573.00l5.4 5.4M153.56 578.40l5.4 -5.4M153.56 576.30l5.4 5.4M153.56 581.70l5.4 -5.4M153.56 582.30l5.4 5.4M153.56 587.70l5.4 -5.4M153.56 584.60l5.4 5.4M153.56 590.00l5.4 -5.4M153.56 587.00l5.4 5.4M153.56 592.40l5.4 -5.4M153.56 589.40l5.4 5.4M153.56 594.80l5.4 -5.4M153.56 591.80l5.4 5.4M153.56 597.20l5.4 -5.4M153.56 594.20l5.4 5.4M153.56 599.60l5.4 -5.4M153.56 596.60l5.4 5.4M153.56 602.00l5.4 -5.4M153.56 599.00l5.4 5.4M153.56 604.40l5.4 -5.4M153.56 601.40l5.4 5.4M153.56 606.80l5.4 -5.4M153.56 603.80l5.4 5.4M153.56 609.20l5.4 -5.4" stroke="#00e000" stroke-width="1.1" fill="none"/>
<path d="M203.44 524.30l5.4 5.4M203.44 529.70l5.4 -5.4M203.44 541.30l5.4 5.4M203.44 546.70l5.4 -5.4M203.44 542.80l5.4 5.4M203.44 548.20l5.4 -5.4M203.44 544.30l5.4 5.4M203.44 549.70l5.4 -5.4M203.44 545.80l5.4 5.4M203.44 551.20l5.4 -5.4M203.44 547.30l5.4 5.4M203.44 552.70l5.4 -5.4M203.44 548.80l5.4 5.4M203.44 554.20l5.4 -5.4M203.44 550.30l5.4 5.4M203.44 555.70l5.4 -5.4M203.44 551.80l5.4 5.4M203.44 557.20l5.4 -5.4M203.44 553.30l5.4 5.4M203.44 558.70l5.4 -5.4M203.44 554.80l5.4 5.4M203.44 560.20l5.4 -5.4M203.44 556.30l5.4 5.4M203.44 561.70l5.4 -5.4M203.44 557.80l5.4 5.4M203.44 563.20l5.4 -5.4M203.44 559.30l5.4 5.4M203.44 564.70l5.4 -5.4M203.44 560.80l5.4 5.4M203.44 566.20l5.4 -5.4M203.44 562.30l5.4 5.4M203.44 567.70l5.4 -5.4M203.44 563.80l5.4 5.4M203.44 569.20l5.4 -5.4M203.44 565.30l5.4 5.4M203.44 570.70l5.4 -5.4M203.44 566.80l5.4 5.4M203.44 572.20l5.4 -5.4M203.44 568.30l5.4 5.4M203.44 573.70l5.4 -5.4M203.44 569.80l5.4 5.4M203.44 575.20l5.4 -5.4M203.44 571.30l5.4 5.4M203.44 576.70l5.4 -5.4M203.44 572.80l5.4 5.4M203.44 578.20l5.4 -5.4M203.44 574.30l5.4 5.4M203.44 579.70l5.4 -5.4M203.44 575.80l5.4 5.4M203.44 581.20l5.4 -5.4M203.44 577.30l5.4 5.4M203.44 582.70l5.4 -5.4M203.44 578.80l5.4 5.4M203.44 584.20l5.4 -5.4M203.44 580.30l5.4 5.4M203.44 585.70l5.4 -5.4M203.44 581.80l5.4 5.4M203.44 587.20l5.4 -5.4M203.44 589.20l5.4 5.4M203.44 594.60l5.4 -5.4" stroke="#0000ff" stroke-width="0.9" fill="none"/>
<path d="M203.44 527.00h5.4M206.14 524.30v5.4M203.44 544.00h5.4M206.14 541.30v5.4M203.44 545.50h5.4M206.14 542.80v5.4M203.44 547.00h5.4M206.14 544.30v5.4M203.44 548.50h5.4M206.14 545.80v5.4M203.44 550.00h5.4M206.14 547.30v5.4M203.44 551.50h5.4M206.14 548.80v5.4M203.44 553.00h5.4M206.14 550.30v5.4M203.44 554.50h5.4M206.14 551.80v5.4M203.44 556.00h5.4M206.14 553.30v5.4M203.44 557.50h5.4M206.14 554.80v5.4M203.44 559.00h5.4M206.14 556.30v5.4M203.44 560.50h5.4M206.14 557.80v5.4M203.44 562.00h5.4M206.14 559.30v5.4M203.44 563.50h5.4M206.14 560.80v5.4M203.44 565.00h5.4M206.14 562.30v5.4M203.44 566.50h5.4M206.14 563.80v5.4M203.44 568.00h5.4M206.14 565.30v5.4M203.44 569.50h5.4M206.14 566.80v5.4M203.44 571.00h5.4M206.14 568.30v5.4M203.44 572.50h5.4M206.14 569.80v5.4M203.44 574.00h5.4M206.14 571.30v5.4M203.44 575.50h5.4M206.14 572.80v5.4M203.44 577.00h5.4M206.14 574.30v5.4M203.44 578.50h5.4M206.14 575.80v5.4M203.44 580.00h5.4M206.14 577.30v5.4M203.44 581.50h5.4M206.14 578.80v5.4M203.44 583.00h5.4M206.14 580.30v5.4M203.44 584.50h5.4M206.14 581.80v5.4M203.44 591.90h5.4M206.14 589.20v5.4" stroke="#0000ff" stroke-width="0.8" stroke-opacity="0.45" fill="none"/>
<path d="M253.12 516.20h5.8v5.2h-5.8zM253.12 522.10h5.8v5.2h-5.8zM253.12 523.70h5.8v5.2h-5.8zM253.12 527.30h5.8v5.2h-5.8zM253.12 529.60h5.8v5.2h-5.8zM253.12 532.60h5.8v5.2h-5.8zM253.12 535.20h5.8v5.2h-5.8zM253.12 537.10h5.8v5.2h-5.8zM253.12 539.80h5.8v5.2h-5.8zM253.12 541.10h5.8v5.2h-5.8zM253.12 545.00h5.8v5.2h-5.8zM253.12 547.90h5.8v5.2h-5.8zM253.12 550.50h5.8v5.2h-5.8zM253.12 554.80h5.8v5.2h-5.8zM253.12 559.30h5.8v5.2h-5.8z" stroke="#f000f0" stroke-width="0.75" fill="none"/>
<rect x="56.50" y="491.50" width="249.40" height="164.80" stroke="#555555" stroke-width="1" fill="none"/>
<text transform="translate(51.30 494.40) scale(0.945 1)" font-size="9.3" text-anchor="end">0</text>
<text transform="translate(51.30 516.37) scale(0.945 1)" font-size="9.3" text-anchor="end">-0.2</text>
<text transform="translate(51.30 538.35) scale(0.945 1)" font-size="9.3" text-anchor="end">-0.4</text>
<text transform="translate(51.30 560.32) scale(0.945 1)" font-size="9.3" text-anchor="end">-0.6</text>
<text transform="translate(51.30 582.29) scale(0.945 1)" font-size="9.3" text-anchor="end">-0.8</text>
<text transform="translate(51.30 604.27) scale(0.945 1)" font-size="9.3" text-anchor="end">-1</text>
<text transform="translate(51.30 626.24) scale(0.945 1)" font-size="9.3" text-anchor="end">-1.2</text>
<text transform="translate(51.30 648.21) scale(0.945 1)" font-size="9.3" text-anchor="end">-1.4</text>
<text transform="translate(106.38 667.90) scale(0.945 1)" font-size="9.3" text-anchor="middle">0</text>
<text transform="translate(156.26 667.90) scale(0.945 1)" font-size="9.3" text-anchor="middle">1</text>
<text transform="translate(206.14 667.90) scale(0.945 1)" font-size="9.3" text-anchor="middle">2</text>
<text transform="translate(256.02 667.90) scale(0.945 1)" font-size="9.3" text-anchor="middle">3</text>
<text x="181.20" y="681.20" font-size="8.7" text-anchor="middle">Number of Si Atoms at 1NN to <tspan font-style="italic">V</tspan></text>
<text transform="translate(23.90 573.90) rotate(-90)" x="0" y="0" font-size="8.85" text-anchor="middle">Binding Energy (eV)</text>
<text x="139.6" y="481.5" font-size="8.62">Si<tspan font-size="6.1" dy="1.9">1-x</tspan><tspan dy="-1.9">Ge</tspan><tspan font-size="6.1" dy="1.9">x</tspan><tspan dy="-1.9"> (x = 0.625)</tspan></text>
<text x="18.4" y="485.3" font-size="15" text-anchor="end" style="stroke-width:0.3px"><tspan font-size="13.5" dy="-1">(</tspan><tspan dx="1" dy="1">e</tspan><tspan font-size="13.5" dx="1" dy="-1">)</tspan></text>
<path d="M409.50 513.47H659.50M409.50 535.45H659.50M409.50 557.42H659.50M409.50 579.39H659.50M409.50 601.37H659.50M409.50 623.34H659.50M409.50 645.31H659.50" stroke="#d6d6d6" stroke-width="0.8" stroke-dasharray="5 1" fill="none"/>
<path d="M459.50 491.50V656.30M509.50 491.50V656.30M559.50 491.50V656.30M609.50 491.50V656.30" stroke="#cdcdcd" stroke-width="0.9" stroke-dasharray="3 1" fill="none"/>
<path d="M409.50 491.50h3M659.50 491.50h-3M409.50 513.47h3M659.50 513.47h-3M409.50 535.45h3M659.50 535.45h-3M409.50 557.42h3M659.50 557.42h-3M409.50 579.39h3M659.50 579.39h-3M409.50 601.37h3M659.50 601.37h-3M409.50 623.34h3M659.50 623.34h-3M409.50 645.31h3M659.50 645.31h-3M459.50 656.30v-3M459.50 491.50v3M509.50 656.30v-3M509.50 491.50v3M559.50 656.30v-3M559.50 491.50v3M609.50 656.30v-3M609.50 491.50v3" stroke="#555555" stroke-width="1" fill="none"/>
<path d="M456.75 610.50h5.5M456.75 622.50h5.5" stroke="#ff2828" stroke-width="0.7" fill="none"/>
<path d="M459.50 607.80v5.4M459.50 619.80v5.4" stroke="#ff2828" stroke-width="0.7" stroke-opacity="0.6" fill="none"/>
<path d="M506.80 574.50l5.4 5.4M506.80 579.90l5.4 -5.4M506.80 580.40l5.4 5.4M506.80 585.80l5.4 -5.4M506.80 583.30l5.4 5.4M506.80 588.70l5.4 -5.4M506.80 584.60l5.4 5.4M506.80 590.00l5.4 -5.4M506.80 588.20l5.4 5.4M506.80 593.60l5.4 -5.4M506.80 591.50l5.4 5.4M506.80 596.90l5.4 -5.4M506.80 594.80l5.4 5.4M506.80 600.20l5.4 -5.4M506.80 597.40l5.4 5.4M506.80 602.80l5.4 -5.4M506.80 604.20l5.4 5.4M506.80 609.60l5.4 -5.4M506.80 616.30l5.4 5.4M506.80 621.70l5.4 -5.4M506.80 618.80l5.4 5.4M506.80 624.20l5.4 -5.4M506.80 620.30l5.4 5.4M506.80 625.70l5.4 -5.4M506.80 621.30l5.4 5.4M506.80 626.70l5.4 -5.4M506.80 623.30l5.4 5.4M506.80 628.70l5.4 -5.4" stroke="#00e000" stroke-width="1.1" fill="none"/>
<path d="M556.80 533.70l5.4 5.4M556.80 539.10l5.4 -5.4M556.80 539.30l5.4 5.4M556.80 544.70l5.4 -5.4M556.80 540.60l5.4 5.4M556.80 546.00l5.4 -5.4M556.80 541.90l5.4 5.4M556.80 547.30l5.4 -5.4M556.80 543.20l5.4 5.4M556.80 548.60l5.4 -5.4M556.80 544.50l5.4 5.4M556.80 549.90l5.4 -5.4M556.80 545.80l5.4 5.4M556.80 551.20l5.4 -5.4M556.80 547.10l5.4 5.4M556.80 552.50l5.4 -5.4M556.80 548.40l5.4 5.4M556.80 553.80l5.4 -5.4M556.80 549.70l5.4 5.4M556.80 555.10l5.4 -5.4M556.80 551.00l5.4 5.4M556.80 556.40l5.4 -5.4M556.80 552.30l5.4 5.4M556.80 557.70l5.4 -5.4M556.80 553.60l5.4 5.4M556.80 559.00l5.4 -5.4M556.80 554.90l5.4 5.4M556.80 560.30l5.4 -5.4M556.80 556.20l5.4 5.4M556.80 561.60l5.4 -5.4M556.80 557.50l5.4 5.4M556.80 562.90l5.4 -5.4M556.80 558.80l5.4 5.4M556.80 564.20l5.4 -5.4M556.80 560.10l5.4 5.4M556.80 565.50l5.4 -5.4M556.80 561.40l5.4 5.4M556.80 566.80l5.4 -5.4M556.80 562.70l5.4 5.4M556.80 568.10l5.4 -5.4M556.80 564.00l5.4 5.4M556.80 569.40l5.4 -5.4M556.80 565.30l5.4 5.4M556.80 570.70l5.4 -5.4M556.80 566.60l5.4 5.4M556.80 572.00l5.4 -5.4M556.80 567.90l5.4 5.4M556.80 573.30l5.4 -5.4M556.80 569.20l5.4 5.4M556.80 574.60l5.4 -5.4M556.80 570.50l5.4 5.4M556.80 575.90l5.4 -5.4M556.80 571.80l5.4 5.4M556.80 577.20l5.4 -5.4M556.80 573.10l5.4 5.4M556.80 578.50l5.4 -5.4M556.80 578.30l5.4 5.4M556.80 583.70l5.4 -5.4M556.80 581.20l5.4 5.4M556.80 586.60l5.4 -5.4M556.80 584.20l5.4 5.4M556.80 589.60l5.4 -5.4M556.80 591.30l5.4 5.4M556.80 596.70l5.4 -5.4M556.80 593.80l5.4 5.4M556.80 599.20l5.4 -5.4M556.80 595.90l5.4 5.4M556.80 601.30l5.4 -5.4M556.80 598.30l5.4 5.4M556.80 603.70l5.4 -5.4M556.80 600.30l5.4 5.4M556.80 605.70l5.4 -5.4M556.80 602.30l5.4 5.4M556.80 607.70l5.4 -5.4M556.80 604.30l5.4 5.4M556.80 609.70l5.4 -5.4M556.80 606.80l5.4 5.4M556.80 612.20l5.4 -5.4" stroke="#0000ff" stroke-width="0.9" fill="none"/>
<path d="M556.80 536.40h5.4M559.50 533.70v5.4M556.80 542.00h5.4M559.50 539.30v5.4M556.80 543.30h5.4M559.50 540.60v5.4M556.80 544.60h5.4M559.50 541.90v5.4M556.80 545.90h5.4M559.50 543.20v5.4M556.80 547.20h5.4M559.50 544.50v5.4M556.80 548.50h5.4M559.50 545.80v5.4M556.80 549.80h5.4M559.50 547.10v5.4M556.80 551.10h5.4M559.50 548.40v5.4M556.80 552.40h5.4M559.50 549.70v5.4M556.80 553.70h5.4M559.50 551.00v5.4M556.80 555.00h5.4M559.50 552.30v5.4M556.80 556.30h5.4M559.50 553.60v5.4M556.80 557.60h5.4M559.50 554.90v5.4M556.80 558.90h5.4M559.50 556.20v5.4M556.80 560.20h5.4M559.50 557.50v5.4M556.80 561.50h5.4M559.50 558.80v5.4M556.80 562.80h5.4M559.50 560.10v5.4M556.80 564.10h5.4M559.50 561.40v5.4M556.80 565.40h5.4M559.50 562.70v5.4M556.80 566.70h5.4M559.50 564.00v5.4M556.80 568.00h5.4M559.50 565.30v5.4M556.80 569.30h5.4M559.50 566.60v5.4M556.80 570.60h5.4M559.50 567.90v5.4M556.80 571.90h5.4M559.50 569.20v5.4M556.80 573.20h5.4M559.50 570.50v5.4M556.80 574.50h5.4M559.50 571.80v5.4M556.80 575.80h5.4M559.50 573.10v5.4M556.80 581.00h5.4M559.50 578.30v5.4M556.80 583.90h5.4M559.50 581.20v5.4M556.80 586.90h5.4M559.50 584.20v5.4M556.80 594.00h5.4M559.50 591.30v5.4M556.80 596.50h5.4M559.50 593.80v5.4M556.80 598.60h5.4M559.50 595.90v5.4M556.80 601.00h5.4M559.50 598.30v5.4M556.80 603.00h5.4M559.50 600.30v5.4M556.80 605.00h5.4M559.50 602.30v5.4M556.80 607.00h5.4M559.50 604.30v5.4M556.80 609.50h5.4M559.50 606.80v5.4" stroke="#0000ff" stroke-width="0.8" stroke-opacity="0.45" fill="none"/>
<path d="M606.60 515.40h5.8v5.2h-5.8zM606.60 518.40h5.8v5.2h-5.8zM606.60 520.90h5.8v5.2h-5.8zM606.60 523.40h5.8v5.2h-5.8zM606.60 525.90h5.8v5.2h-5.8zM606.60 528.40h5.8v5.2h-5.8zM606.60 530.40h5.8v5.2h-5.8zM606.60 532.40h5.8v5.2h-5.8zM606.60 534.90h5.8v5.2h-5.8zM606.60 537.40h5.8v5.2h-5.8zM606.60 539.40h5.8v5.2h-5.8zM606.60 541.90h5.8v5.2h-5.8zM606.60 544.40h5.8v5.2h-5.8zM606.60 546.90h5.8v5.2h-5.8zM606.60 548.90h5.8v5.2h-5.8zM606.60 550.90h5.8v5.2h-5.8zM606.60 552.90h5.8v5.2h-5.8zM606.60 555.40h5.8v5.2h-5.8zM606.60 557.90h5.8v5.2h-5.8zM606.60 560.40h5.8v5.2h-5.8zM606.60 562.90h5.8v5.2h-5.8zM606.60 564.90h5.8v5.2h-5.8zM606.60 566.40h5.8v5.2h-5.8zM606.60 567.90h5.8v5.2h-5.8zM606.60 569.40h5.8v5.2h-5.8zM606.60 571.90h5.8v5.2h-5.8zM606.60 581.40h5.8v5.2h-5.8zM606.60 586.70h5.8v5.2h-5.8zM606.60 592.20h5.8v5.2h-5.8zM606.60 598.20h5.8v5.2h-5.8z" stroke="#f000f0" stroke-width="0.75" fill="none"/>
<rect x="409.50" y="491.50" width="250.00" height="164.80" stroke="#555555" stroke-width="1" fill="none"/>
<text transform="translate(404.30 494.40) scale(0.945 1)" font-size="9.3" text-anchor="end">0</text>
<text transform="translate(404.30 516.37) scale(0.945 1)" font-size="9.3" text-anchor="end">-0.2</text>
<text transform="translate(404.30 538.35) scale(0.945 1)" font-size="9.3" text-anchor="end">-0.4</text>
<text transform="translate(404.30 560.32) scale(0.945 1)" font-size="9.3" text-anchor="end">-0.6</text>
<text transform="translate(404.30 582.29) scale(0.945 1)" font-size="9.3" text-anchor="end">-0.8</text>
<text transform="translate(404.30 604.27) scale(0.945 1)" font-size="9.3" text-anchor="end">-1</text>
<text transform="translate(404.30 626.24) scale(0.945 1)" font-size="9.3" text-anchor="end">-1.2</text>
<text transform="translate(404.30 648.21) scale(0.945 1)" font-size="9.3" text-anchor="end">-1.4</text>
<text transform="translate(459.50 667.90) scale(0.945 1)" font-size="9.3" text-anchor="middle">0</text>
<text transform="translate(509.50 667.90) scale(0.945 1)" font-size="9.3" text-anchor="middle">1</text>
<text transform="translate(559.50 667.90) scale(0.945 1)" font-size="9.3" text-anchor="middle">2</text>
<text transform="translate(609.50 667.90) scale(0.945 1)" font-size="9.3" text-anchor="middle">3</text>
<text x="534.50" y="681.20" font-size="8.7" text-anchor="middle">Number of Si Atoms at 1NN to <tspan font-style="italic">V</tspan></text>
<text transform="translate(376.90 573.90) rotate(-90)" x="0" y="0" font-size="8.85" text-anchor="middle">Binding Energy (eV)</text>
<text x="495.3" y="481.5" font-size="8.62">Si<tspan font-size="6.1" dy="1.9">1-x</tspan><tspan dy="-1.9">Ge</tspan><tspan font-size="6.1" dy="1.9">x</tspan><tspan dy="-1.9"> (x = 0.85)</tspan></text>
<text x="372.2" y="485.3" font-size="15" text-anchor="end" style="stroke-width:0.3px"><tspan font-size="13.5" dy="-1">(</tspan><tspan dx="1" dy="1">f</tspan><tspan font-size="13.5" dx="1" dy="-1">)</tspan></text>
<path d="M56.50 750.41H305.90M56.50 772.43H305.90M56.50 794.44H305.90M56.50 816.45H305.90M56.50 838.47H305.90M56.50 860.48H305.90M56.50 882.49H305.90" stroke="#d6d6d6" stroke-width="0.8" stroke-dasharray="5 1" fill="none"/>
<path d="M156.26 728.40V893.50M206.14 728.40V893.50M256.02 728.40V893.50" stroke="#cdcdcd" stroke-width="0.9" stroke-dasharray="3 1" fill="none"/>
<path d="M56.50 728.40h3M305.90 728.40h-3M56.50 750.41h3M305.90 750.41h-3M56.50 772.43h3M305.90 772.43h-3M56.50 794.44h3M305.90 794.44h-3M56.50 816.45h3M305.90 816.45h-3M56.50 838.47h3M305.90 838.47h-3M56.50 860.48h3M305.90 860.48h-3M56.50 882.49h3M305.90 882.49h-3M156.26 893.50v-3M156.26 728.40v3M206.14 893.50v-3M206.14 728.40v3M256.02 893.50v-3M256.02 728.40v3" stroke="#555555" stroke-width="1" fill="none"/>
<path d="M153.56 857.60l5.4 5.4M153.56 863.00l5.4 -5.4M153.56 858.10l5.4 5.4M153.56 863.50l5.4 -5.4M153.56 860.80l5.4 5.4M153.56 866.20l5.4 -5.4M153.56 863.80l5.4 5.4M153.56 869.20l5.4 -5.4M153.56 866.80l5.4 5.4M153.56 872.20l5.4 -5.4" stroke="#00e000" stroke-width="1.1" fill="none"/>
<path d="M203.44 815.80l5.4 5.4M203.44 821.20l5.4 -5.4M203.44 822.20l5.4 5.4M203.44 827.60l5.4 -5.4M203.44 825.80l5.4 5.4M203.44 831.20l5.4 -5.4M203.44 827.00l5.4 5.4M203.44 832.40l5.4 -5.4M203.44 828.20l5.4 5.4M203.44 833.60l5.4 -5.4M203.44 829.40l5.4 5.4M203.44 834.80l5.4 -5.4M203.44 830.60l5.4 5.4M203.44 836.00l5.4 -5.4M203.44 831.80l5.4 5.4M203.44 837.20l5.4 -5.4M203.44 833.00l5.4 5.4M203.44 838.40l5.4 -5.4M203.44 834.20l5.4 5.4M203.44 839.60l5.4 -5.4M203.44 835.40l5.4 5.4M203.44 840.80l5.4 -5.4M203.44 836.60l5.4 5.4M203.44 842.00l5.4 -5.4M203.44 837.80l5.4 5.4M203.44 843.20l5.4 -5.4M203.44 839.00l5.4 5.4M203.44 844.40l5.4 -5.4M203.44 840.20l5.4 5.4M203.44 845.60l5.4 -5.4M203.44 841.40l5.4 5.4M203.44 846.80l5.4 -5.4M203.44 842.60l5.4 5.4M203.44 848.00l5.4 -5.4M203.44 844.10l5.4 5.4M203.44 849.50l5.4 -5.4M203.44 845.50l5.4 5.4M203.44 850.90l5.4 -5.4M203.44 858.30l5.4 5.4M203.44 863.70l5.4 -5.4M203.44 861.10l5.4 5.4M203.44 866.50l5.4 -5.4M203.44 864.00l5.4 5.4M203.44 869.40l5.4 -5.4" stroke="#0000ff" stroke-width="0.9" fill="none"/>
<path d="M203.44 818.50h5.4M206.14 815.80v5.4M203.44 824.90h5.4M206.14 822.20v5.4M203.44 828.50h5.4M206.14 825.80v5.4M203.44 829.70h5.4M206.14 827.00v5.4M203.44 830.90h5.4M206.14 828.20v5.4M203.44 832.10h5.4M206.14 829.40v5.4M203.44 833.30h5.4M206.14 830.60v5.4M203.44 834.50h5.4M206.14 831.80v5.4M203.44 835.70h5.4M206.14 833.00v5.4M203.44 836.90h5.4M206.14 834.20v5.4M203.44 838.10h5.4M206.14 835.40v5.4M203.44 839.30h5.4M206.14 836.60v5.4M203.44 840.50h5.4M206.14 837.80v5.4M203.44 841.70h5.4M206.14 839.00v5.4M203.44 842.90h5.4M206.14 840.20v5.4M203.44 844.10h5.4M206.14 841.40v5.4M203.44 845.30h5.4M206.14 842.60v5.4M203.44 846.80h5.4M206.14 844.10v5.4M203.44 848.20h5.4M206.14 845.50v5.4M203.44 861.00h5.4M206.14 858.30v5.4M203.44 863.80h5.4M206.14 861.10v5.4M203.44 866.70h5.4M206.14 864.00v5.4" stroke="#0000ff" stroke-width="0.8" stroke-opacity="0.45" fill="none"/>
<path d="M253.12 794.40h5.8v5.2h-5.8zM253.12 795.80h5.8v5.2h-5.8zM253.12 797.20h5.8v5.2h-5.8zM253.12 798.60h5.8v5.2h-5.8zM253.12 800.00h5.8v5.2h-5.8zM253.12 801.40h5.8v5.2h-5.8zM253.12 802.80h5.8v5.2h-5.8zM253.12 804.20h5.8v5.2h-5.8zM253.12 805.60h5.8v5.2h-5.8zM253.12 807.00h5.8v5.2h-5.8zM253.12 808.40h5.8v5.2h-5.8zM253.12 809.80h5.8v5.2h-5.8zM253.12 811.20h5.8v5.2h-5.8zM253.12 812.60h5.8v5.2h-5.8zM253.12 814.00h5.8v5.2h-5.8zM253.12 815.40h5.8v5.2h-5.8zM253.12 817.90h5.8v5.2h-5.8zM253.12 820.40h5.8v5.2h-5.8zM253.12 823.40h5.8v5.2h-5.8zM253.12 826.40h5.8v5.2h-5.8zM253.12 829.40h5.8v5.2h-5.8zM253.12 832.90h5.8v5.2h-5.8zM253.12 836.40h5.8v5.2h-5.8zM253.12 839.90h5.8v5.2h-5.8zM253.12 843.40h5.8v5.2h-5.8zM253.12 846.90h5.8v5.2h-5.8zM253.12 850.40h5.8v5.2h-5.8z" stroke="#f000f0" stroke-width="0.75" fill="none"/>
<rect x="56.50" y="728.40" width="249.40" height="165.10" stroke="#555555" stroke-width="1" fill="none"/>
<text transform="translate(51.30 731.30) scale(0.945 1)" font-size="9.3" text-anchor="end">0</text>
<text transform="translate(51.30 753.31) scale(0.945 1)" font-size="9.3" text-anchor="end">-0.2</text>
<text transform="translate(51.30 775.33) scale(0.945 1)" font-size="9.3" text-anchor="end">-0.4</text>
<text transform="translate(51.30 797.34) scale(0.945 1)" font-size="9.3" text-anchor="end">-0.6</text>
<text transform="translate(51.30 819.35) scale(0.945 1)" font-size="9.3" text-anchor="end">-0.8</text>
<text transform="translate(51.30 841.37) scale(0.945 1)" font-size="9.3" text-anchor="end">-1</text>
<text transform="translate(51.30 863.38) scale(0.945 1)" font-size="9.3" text-anchor="end">-1.2</text>
<text transform="translate(51.30 885.39) scale(0.945 1)" font-size="9.3" text-anchor="end">-1.4</text>
<text transform="translate(156.26 905.10) scale(0.945 1)" font-size="9.3" text-anchor="middle">1</text>
<text transform="translate(206.14 905.10) scale(0.945 1)" font-size="9.3" text-anchor="middle">2</text>
<text transform="translate(256.02 905.10) scale(0.945 1)" font-size="9.3" text-anchor="middle">3</text>
<text x="181.20" y="918.40" font-size="8.7" text-anchor="middle">Number of Si Atoms at 1NN to <tspan font-style="italic">V</tspan></text>
<text transform="translate(23.90 810.95) rotate(-90)" x="0" y="0" font-size="8.85" text-anchor="middle">Binding Energy (eV)</text>
<text x="139.6" y="719.0" font-size="8.62">Si<tspan font-size="6.1" dy="1.9">1-x</tspan><tspan dy="-1.9">Ge</tspan><tspan font-size="6.1" dy="1.9">x</tspan><tspan dy="-1.9"> (x = 0.75)</tspan></text>
<text x="18.4" y="722.8" font-size="15" text-anchor="end" style="stroke-width:0.3px"><tspan font-size="13.5" dy="-1">(</tspan><tspan dx="1" dy="1">g</tspan><tspan font-size="13.5" dx="1" dy="-1">)</tspan></text>
</svg>
</body></html>
